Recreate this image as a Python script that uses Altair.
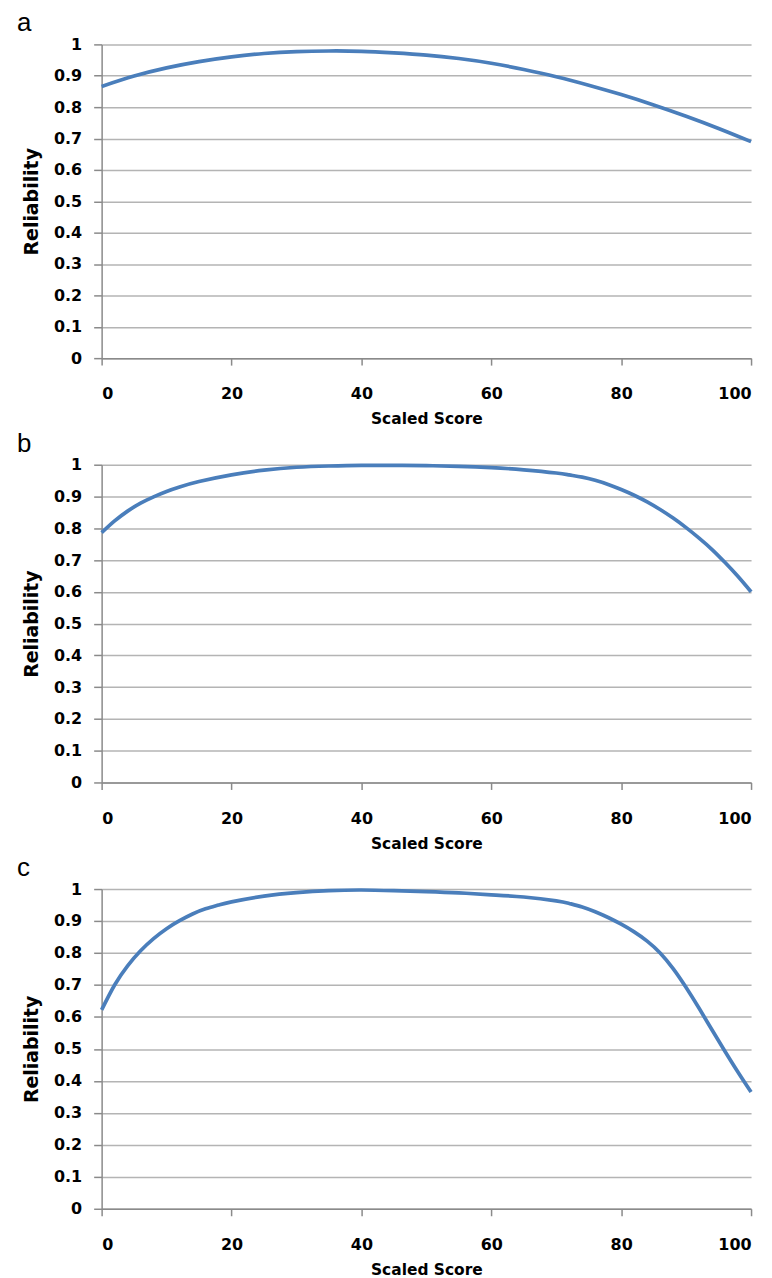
import altair as alt
import pandas as pd

scores_a = [0, 5, 10, 15, 20, 25, 30, 35, 40, 45, 50, 55, 60, 65, 70, 75, 80, 85, 90, 95, 100]
rel_a = [0.866, 0.899, 0.925, 0.945, 0.960, 0.971, 0.977, 0.979, 0.978, 0.973, 0.966,
         0.955, 0.940, 0.920, 0.897, 0.870, 0.840, 0.807, 0.771, 0.732, 0.690]

scores_b = [0, 2, 4, 6, 8, 10, 12, 15, 20, 25, 30, 35, 40, 45, 50, 55, 60, 65, 70, 72,
            74, 76, 78, 80, 82, 84, 86, 88, 90, 92, 94, 96, 98, 100]
rel_b = [0.786, 0.823, 0.854, 0.879, 0.899, 0.916, 0.930, 0.947, 0.968, 0.983, 0.992,
         0.996, 0.998, 0.998, 0.997, 0.995, 0.991, 0.984, 0.974, 0.968, 0.961, 0.951,
         0.938, 0.922, 0.904, 0.883, 0.859, 0.832, 0.802, 0.769, 0.733, 0.692, 0.648, 0.600]

scores_c = [0, 2, 4, 6, 8, 10, 12, 14, 16, 18, 20, 25, 30, 35, 40, 45, 50, 55, 60, 65,
            70, 72, 74, 76, 78, 80, 82, 84, 86, 88, 90, 92, 94, 96, 98, 100]
rel_c = [0.622, 0.700, 0.760, 0.807, 0.845, 0.876, 0.901, 0.922, 0.938, 0.950, 0.960,
         0.978, 0.989, 0.995, 0.997, 0.995, 0.992, 0.988, 0.982, 0.975, 0.963, 0.955,
         0.944, 0.929, 0.911, 0.890, 0.866, 0.837, 0.800, 0.751, 0.692, 0.627, 0.559,
         0.492, 0.427, 0.365]

panel_labels = ["a", "b", "c"]
panel_heights = [315, 319, 321]
x_ticks = [0, 20, 40, 60, 80, 100]
y_ticks = [0, 0.1, 0.2, 0.3, 0.4, 0.5, 0.6, 0.7, 0.8, 0.9, 1]
x_title = "Scaled Score"
y_title = "Reliability"

GRID = "#b4b4b4"
AXIS = "#8a8a8a"


def panel(label, xs, values, height):
    df = pd.DataFrame({"score": xs, "rel": values})
    return (
        alt.Chart(
            df,
            title=alt.TitleParams(
                label, anchor="start", frame="group", dx=-85, offset=0,
                fontSize=26, font="Liberation Sans", fontWeight="normal", color="black",
            ),
        )
        .mark_line(color="#4a7ebb", strokeWidth=3.7, interpolate="natural")
        .encode(
            x=alt.X(
                "score:Q",
                scale=alt.Scale(domain=[0, 100], nice=False),
                axis=alt.Axis(
                    values=x_ticks, title=x_title, grid=False, tickSize=7,
                    labelPadding=21, titlePadding=10, titleFontSize=15.5,
                    format="d",
                ),
            ),
            y=alt.Y(
                "rel:Q",
                scale=alt.Scale(domain=[0, 1], nice=False),
                axis=alt.Axis(
                    values=y_ticks, title=y_title, grid=True, tickSize=8,
                    labelPadding=12, titlePadding=12, titleFontSize=19,
                    format="~g",
                ),
            ),
        )
        .properties(width=652, height=height)
    )


charts = [
    panel(panel_labels[0], scores_a, rel_a, panel_heights[0]),
    panel(panel_labels[1], scores_b, rel_b, panel_heights[1]),
    panel(panel_labels[2], scores_c, rel_c, panel_heights[2]),
]

chart = (
    alt.vconcat(*charts, spacing=107, bounds="flush")
    .configure_view(stroke=None)
    .configure_axis(
        domainColor=AXIS, domainWidth=1.5, tickColor=AXIS, tickWidth=1.5,
        gridColor=GRID, gridWidth=1.5,
        labelFont="DejaVu Sans", labelFontWeight="bold", labelFontSize=16, labelColor="black",
        titleFont="DejaVu Sans", titleFontWeight="bold", titleColor="black",
    )
    .properties(padding={"left": 9, "top": 0, "right": 5, "bottom": 5})
)

chart.save("out.html", embed_options={"renderer": "svg", "actions": False})
